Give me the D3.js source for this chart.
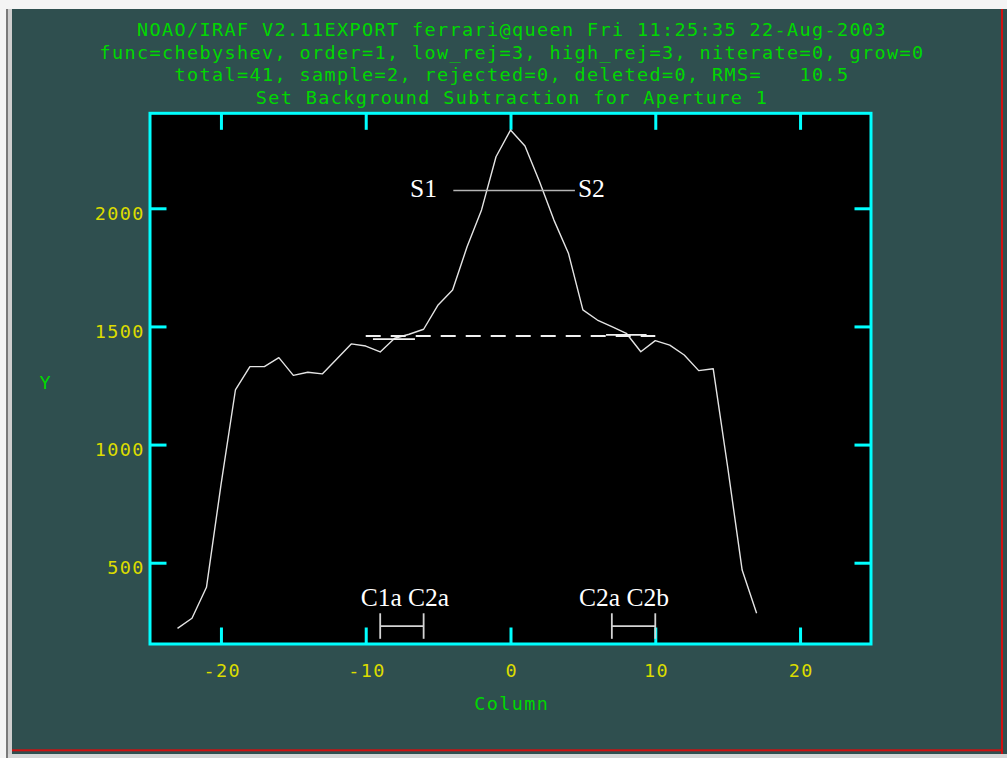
<!DOCTYPE html>
<html><head><meta charset="utf-8">
<script src="https://cdn.jsdelivr.net/npm/d3@7"></script>
<style>
html,body{margin:0;padding:0;background:#fff;}
svg{display:block;}
text{white-space:pre;}
</style></head>
<body>
<script>
// ---------- data ----------
const titleLines = [
  "NOAO/IRAF V2.11EXPORT ferrari@queen Fri 11:25:35 22-Aug-2003",
  "func=chebyshev, order=1, low_rej=3, high_rej=3, niterate=0, grow=0",
  "total=41, sample=2, rejected=0, deleted=0, RMS=   10.5",
  "Set Background Subtraction for Aperture 1"
];
const xLabel = "Column";
const yLabel = "Y";
const xTicks = [-20, -10, 0, 10, 20];
const yTicks = [500, 1000, 1500, 2000];
const columns = [-23,-22,-21,-20,-19,-18,-17,-16,-15,-14,-13,-12,-11,-10,-9,-8,-7,-6,-5,-4,-3,-2,-1,0,1,2,3,4,5,6,7,8,9,10,11,12,13,14,15,16,17];
const values  = [222,265,396,828,1231,1330,1330,1368,1293,1306,1299,1362,1426,1417,1392,1450,1467,1488,1591,1654,1837,1993,2218,2331,2264,2113,1950,1810,1570,1527,1499,1471,1393,1440,1421,1379,1313,1321,905,469,286];
const fitRange = [-10, 10];
const fitLevel = 1460;
const sampleStarts = [-9.5, 6.6];
const sampleEnds   = [-6.6, 9.4];
const sampleLevels = [1446, 1464];
const sLabels = ["S1", "S2"];
const sRange = [-3.95, 4.45];
const sLevel = 2075;
const bracketLabels = ["C1a C2a", "C2a C2b"];
const bracketStarts = [-9, 7];
const bracketEnds = [-6, 10];
const bracketLabelCols = [-10.35, 4.73];
const bracketLevel = 232;
const bracketHalf = 54;
const labelLevel = 317;

// ---------- layout ----------
const W = 1007, H = 758;
const svg = d3.select("body").append("svg").attr("width", W).attr("height", H);

// window frame
svg.append("rect").attr("x",0).attr("y",0).attr("width",W).attr("height",H).attr("fill","#f4f4f4");
svg.append("rect").attr("x",6).attr("y",9).attr("width",2).attr("height",H-9).attr("fill","#7a7a7a");
svg.append("rect").attr("x",8).attr("y",9).attr("width",4).attr("height",H-9).attr("fill","#cfcfcf");
svg.append("rect").attr("x",12).attr("y",9).attr("width",W-12).attr("height",745).attr("fill","#2f4f4f");
svg.append("rect").attr("x",8).attr("y",754).attr("width",W-8).attr("height",4).attr("fill","#d6d6d6");
svg.append("rect").attr("x",12).attr("y",749.3).attr("width",991).attr("height",2).attr("fill","#d01010");
svg.append("rect").attr("x",1001).attr("y",9).attr("width",2).attr("height",745).attr("fill","#d01010");

const x = d3.scaleLinear().domain([-24.9, 24.9]).range([150, 871]);
const y = d3.scaleLinear().domain([156, 2402]).range([644, 113.3]);

const mono = "'DejaVu Sans Mono', monospace";
const green = "#00d800", yellow = "#dcdc00", cyan = "#00ffff";

// titles
const pitch = 12.5, fs = 18.5, adv = 0.602 * fs;
titleLines.forEach((t, i) => {
  svg.append("text")
    .attr("x", 511.2).attr("y", 36.3 + i * 22.4)
    .attr("text-anchor", "middle")
    .attr("font-family", mono).attr("font-size", fs)
    .attr("fill", green)
    .attr("textLength", (t.length - 1) * pitch + adv)
    .attr("lengthAdjust", "spacing")
    .text(t);
});

// plot background
svg.append("rect")
  .attr("x", x.range()[0]).attr("y", y.range()[1])
  .attr("width", x.range()[1] - x.range()[0]).attr("height", y.range()[0] - y.range()[1])
  .attr("fill", "#000");

// axes
const tl = 16.5;
function styleAxis(g) {
  g.select(".domain").remove();
  g.selectAll(".tick line").attr("stroke", cyan).attr("stroke-width", 3);
  g.selectAll(".tick text").attr("font-family", mono).attr("font-size", fs)
    .attr("fill", yellow).attr("letter-spacing", (pitch - adv) + "px");
}
const gB = svg.append("g").attr("transform", `translate(0,${y.range()[0]})`)
  .call(d3.axisBottom(x).tickValues(xTicks).tickSize(-tl).tickFormat(d3.format("d")));
styleAxis(gB);
gB.selectAll(".tick text").attr("y", 33.3).attr("dy", 0).attr("dx", (pitch - adv) / 2)
  .text(d => d < 0 ? "-" + Math.abs(d) : String(d));

const gT = svg.append("g").attr("transform", `translate(0,${y.range()[1]})`)
  .call(d3.axisTop(x).tickValues(xTicks).tickSize(-tl).tickFormat(""));
styleAxis(gT);

const gL = svg.append("g").attr("transform", `translate(${x.range()[0]},0)`)
  .call(d3.axisLeft(y).tickValues(yTicks).tickSize(-tl).tickFormat(d3.format("d")));
styleAxis(gL);
gL.selectAll(".tick text").attr("x", -5.3).attr("dy", 0).attr("y", 11.2).attr("text-anchor", "end");

const gR = svg.append("g").attr("transform", `translate(${x.range()[1]},0)`)
  .call(d3.axisRight(y).tickValues(yTicks).tickSize(-tl).tickFormat(""));
styleAxis(gR);

// frame
svg.append("rect")
  .attr("x", x.range()[0]).attr("y", y.range()[1])
  .attr("width", x.range()[1] - x.range()[0]).attr("height", y.range()[0] - y.range()[1])
  .attr("fill", "none").attr("stroke", cyan).attr("stroke-width", 3);

// axis labels
svg.append("text").attr("x", 511).attr("y", 710).attr("text-anchor", "middle")
  .attr("font-family", mono).attr("font-size", fs).attr("fill", green)
  .attr("textLength", (xLabel.length - 1) * pitch + adv).text(xLabel);
svg.append("text").attr("x", 45).attr("y", 389).attr("text-anchor", "middle")
  .attr("font-family", mono).attr("font-size", fs).attr("fill", green).text(yLabel);

// data line
const line = d3.line().x(d => x(d[0])).y(d => y(d[1]));
svg.append("path").datum(columns.map((c, i) => [c, values[i]]))
  .attr("d", line).attr("fill", "none").attr("stroke", "#e4e4e4").attr("stroke-width", 1.4)
  .attr("stroke-linejoin", "round");

// fit (dashed)
svg.append("path").datum(fitRange.map(c => [c, fitLevel]))
  .attr("d", line).attr("fill", "none").attr("stroke", "#f0f0f0").attr("stroke-width", 2)
  .attr("stroke-dasharray", "15,10");

// sample marks
sampleStarts.forEach((s, i) => {
  svg.append("path").datum([[s, sampleLevels[i]], [sampleEnds[i], sampleLevels[i]]])
    .attr("d", line).attr("fill", "none").attr("stroke", "#f0f0f0").attr("stroke-width", 1.8);
});

// S1 - S2 annotation
const serif = "'Liberation Serif', 'Times New Roman', serif";
svg.append("path").datum(sRange.map(c => [c, sLevel]))
  .attr("d", line).attr("fill", "none").attr("stroke", "#b4b4b4").attr("stroke-width", 1.5);
svg.append("text").attr("x", x(sRange[0]) - 16.3).attr("y", y(sLevel) + 6.2)
  .attr("text-anchor", "end").attr("font-family", serif).attr("font-size", 25.5)
  .attr("fill", "#fff").text(sLabels[0]);
svg.append("text").attr("x", x(sRange[1]) + 3).attr("y", y(sLevel) + 6.2)
  .attr("text-anchor", "start").attr("font-family", serif).attr("font-size", 25.5)
  .attr("fill", "#fff").text(sLabels[1]);

// brackets
bracketStarts.forEach((s, i) => {
  const e = bracketEnds[i];
  const g = svg.append("g").attr("stroke", "#d4d4d4").attr("stroke-width", 1.8).attr("fill", "none");
  g.append("path").datum([[s, bracketLevel], [e, bracketLevel]]).attr("d", line);
  g.append("path").datum([[s, bracketLevel - bracketHalf], [s, bracketLevel + bracketHalf]]).attr("d", line);
  g.append("path").datum([[e, bracketLevel - bracketHalf], [e, bracketLevel + bracketHalf]]).attr("d", line);
  svg.append("text").attr("x", x(bracketLabelCols[i])).attr("y", y(labelLevel))
    .attr("font-family", serif).attr("font-size", 25.5).attr("fill", "#fff")
    .text(bracketLabels[i]);
});
</script>
</body></html>
